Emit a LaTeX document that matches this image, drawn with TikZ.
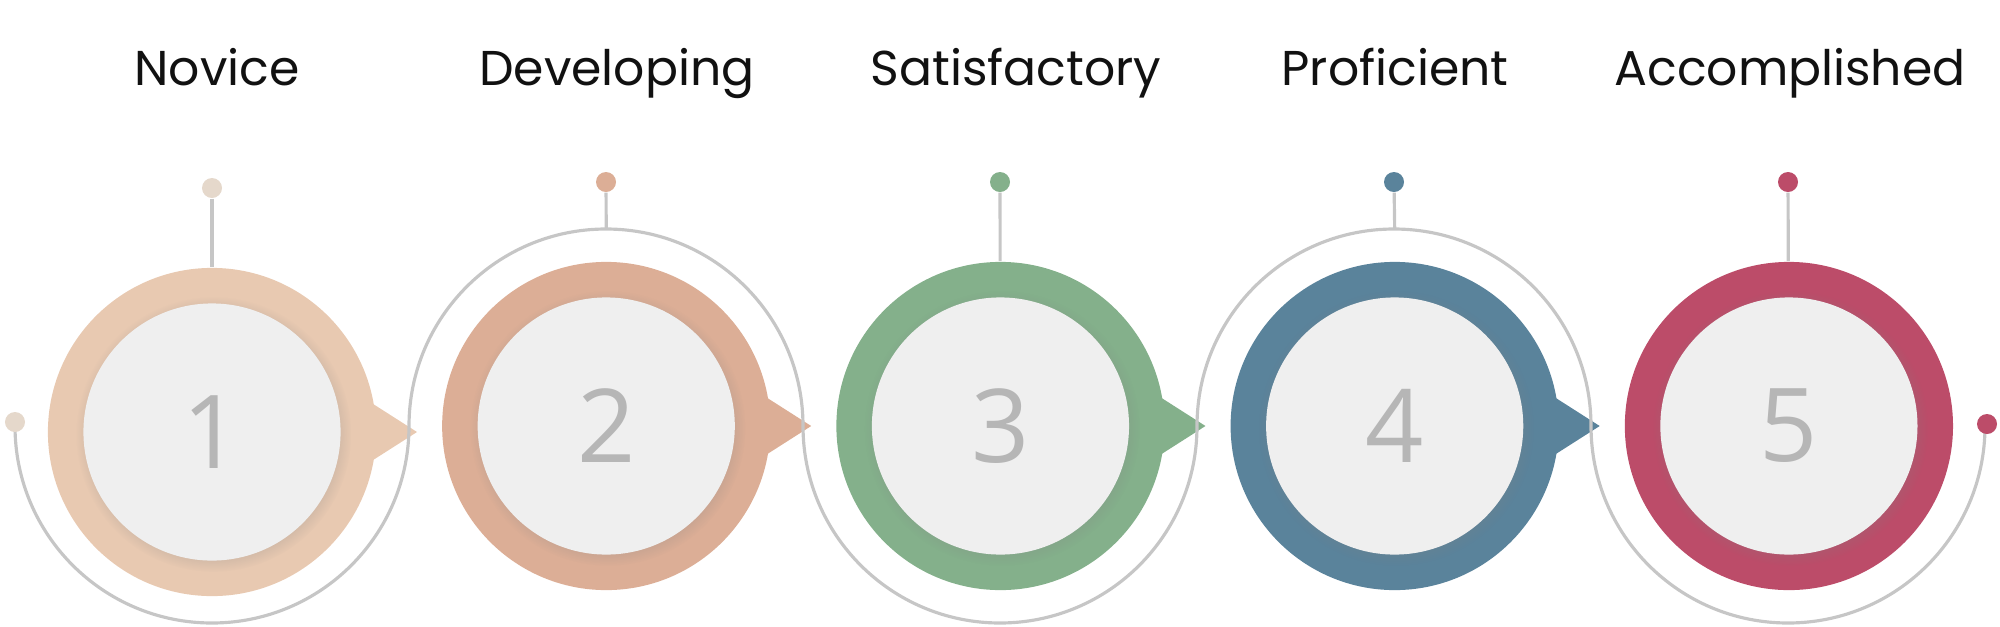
\documentclass[tikz,border=0pt]{standalone}
\usepackage{fontspec}
\setmainfont{Poppins}
\newfontfamily\digitfont{Open Sans}
\usetikzlibrary{positioning,shadows}

\definecolor{novice}{HTML}{E8C9B1}
\definecolor{novicedot}{HTML}{E5D8CB}
\definecolor{developing}{HTML}{DCAE96}
\definecolor{satisfactory}{HTML}{84B08B}
\definecolor{proficient}{HTML}{5A839B}
\definecolor{accomplished}{HTML}{BC4C69}
\definecolor{facegrey}{HTML}{EFEFEF}
\definecolor{digitgrey}{HTML}{B6B6B6}
\definecolor{wiregrey}{HTML}{C6C6C6}
\definecolor{titleblack}{HTML}{111111}

\begin{document}
\begin{tikzpicture}[
  x=0.01cm, y=0.01cm,
  ring/.style={circle, minimum size=3.28cm, inner sep=0pt},
  face/.style={circle, fill=facegrey, minimum size=2.57cm, inner sep=0pt,
    text=digitgrey, font=\digitfont\fontsize{29}{30}\selectfont,
    circular drop shadow={shadow scale=1.07, shadow xshift=0.4pt, shadow yshift=-0.6pt, opacity=0.3}},
  knob/.style={circle, minimum size=0.2cm, inner sep=0pt},
  wire/.style={draw=wiregrey, line width=0.9pt},
  heading/.style={anchor=base, text=titleblack, font=\fontsize{13.9}{16}\selectfont},
  node distance=3.94cm
]
\useasboundingbox (0,0) rectangle (2000,626);

% Rings
\node[ring, fill=novice] (ring1) at (212,194) {};
\node[ring, fill=developing, right of=ring1, yshift=0.06cm] (ring2) {};
\node[ring, fill=satisfactory, right of=ring2] (ring3) {};
\node[ring, fill=proficient, right of=ring3] (ring4) {};
\node[ring, fill=accomplished, right of=ring4] (ring5) {};

% Pointers
\fill[novice] ([shift={(158,30)}]ring1.center) -- ([shift={(205,0)}]ring1.center) -- ([shift={(158,-30)}]ring1.center) -- cycle;
\fill[developing] ([shift={(158,30)}]ring2.center) -- ([shift={(205,0)}]ring2.center) -- ([shift={(158,-30)}]ring2.center) -- cycle;
\fill[satisfactory] ([shift={(158,30)}]ring3.center) -- ([shift={(205,0)}]ring3.center) -- ([shift={(158,-30)}]ring3.center) -- cycle;
\fill[proficient] ([shift={(158,30)}]ring4.center) -- ([shift={(205,0)}]ring4.center) -- ([shift={(158,-30)}]ring4.center) -- cycle;

% Faces
\node[face] (face1) at (ring1) {1};
\node[face] (face2) at (ring2) {2};
\node[face] (face3) at (ring3) {3};
\node[face] (face4) at (ring4) {4};
\node[face] (face5) at (ring5) {5};

% Headings
\node[heading] (head1) at (217,541) {Novice};
\node[heading] (head2) at (617,541) {Developing};
\node[heading] (head3) at (1016,541) {Satisfactory};
\node[heading] (head4) at (1395,541) {Proficient};
\node[heading] (head5) at (1790,541) {Accomplished};

% Stems
\node[knob, fill=novicedot] (knob1) at (212,438) {};
\node[knob, fill=developing] (knob2) at (606,444) {};
\node[knob, fill=satisfactory] (knob3) at (1000,444) {};
\node[knob, fill=proficient] (knob4) at (1394,444) {};
\node[knob, fill=accomplished] (knob5) at (1788,444) {};
\coordinate (crest2) at ([yshift=1.97cm]ring2.center);
\coordinate (crest4) at ([yshift=1.97cm]ring4.center);
\draw[wire] (knob1) -- (ring1);
\draw[wire] (knob2) -- (crest2);
\draw[wire] (knob3) -- (ring3);
\draw[wire] (knob4) -- (crest4);
\draw[wire] (knob5) -- (ring5);

% Track
\coordinate (lead) at (15,200);
\draw[wire] (lead) arc[start angle=180, end angle=360, radius=197]
  arc[start angle=180, end angle=0, radius=197]
  arc[start angle=180, end angle=360, radius=197]
  arc[start angle=180, end angle=0, radius=197]
  arc[start angle=180, end angle=360, radius=197] coordinate (tail);
\node[knob, fill=novicedot] (knob0) at ([yshift=0.04cm]lead) {};
\node[knob, fill=accomplished] (knob6) at ([shift={(2,2)}]tail) {};
\end{tikzpicture}
\end{document}
